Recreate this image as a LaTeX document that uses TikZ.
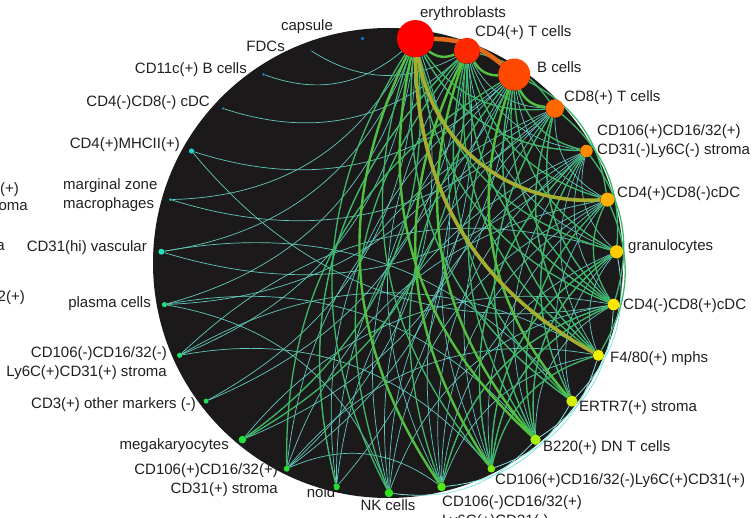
\documentclass[tikz,border=0pt]{standalone}
\usepackage{fontspec}
\setmainfont{Liberation Sans}
\usetikzlibrary{calc}

\pgfdeclarelayer{disk}
\pgfdeclarelayer{edges}
\pgfsetlayers{disk,edges,main}

% node colours, right side red -> yellow -> green, left side green -> blue
\definecolor{c0}{HTML}{33E01F}
\definecolor{c1}{HTML}{55E81A}
\definecolor{c2}{HTML}{7DEA14}
\definecolor{c3}{HTML}{A8EE10}
\definecolor{c4}{HTML}{D4F00A}
\definecolor{c5}{HTML}{EEF000}
\definecolor{c6}{HTML}{FFE600}
\definecolor{c7}{HTML}{FFCC00}
\definecolor{c8}{HTML}{FFB000}
\definecolor{c9}{HTML}{FF8A00}
\definecolor{c10}{HTML}{FF6600}
\definecolor{c11}{HTML}{FF4800}
\definecolor{c12}{HTML}{FF2800}
\definecolor{c13}{HTML}{FF0000}
\definecolor{c14}{HTML}{1E6BE6}
\definecolor{c15}{HTML}{1F4FA0}
\definecolor{c16}{HTML}{1F7FD0}
\definecolor{c17}{HTML}{22A6C8}
\definecolor{c18}{HTML}{20D2D2}
\definecolor{c19}{HTML}{20C0D0}
\definecolor{c20}{HTML}{1FE0B8}
\definecolor{c21}{HTML}{1FE070}
\definecolor{c22}{HTML}{1FE068}
\definecolor{c23}{HTML}{22DD55}
\definecolor{c24}{HTML}{22E040}
\definecolor{c25}{HTML}{22E035}
\definecolor{c26}{HTML}{22E025}
\definecolor{diskbg}{HTML}{1B1919}
\definecolor{eThin}{HTML}{62C9BD}
\definecolor{eRim}{HTML}{7FE5E0}
\definecolor{eMid}{HTML}{3EB86A}
\definecolor{eGreen}{HTML}{52C040}
\definecolor{eOlive}{HTML}{A4AE30}
\definecolor{eOrange}{HTML}{E56A1C}

\begin{document}
\begin{tikzpicture}[x=1pt, y=-1pt,
  dot/.style={circle, inner sep=0pt, draw=none},
  lbl/.style={inner sep=0pt, font=\fontsize{15}{19}\selectfont, text=black!88},
  wThin/.style={draw=eThin, line width=0.7pt},
  wRim/.style={draw=eRim, line width=0.8pt},
  wMid/.style={draw=eMid, line width=1.3pt},
  wGreen/.style={draw=eGreen, line width=2.4pt},
  wOlive/.style={draw=eOlive, line width=3.6pt},
  wOrange/.style={draw=eOrange, line width=4.5pt}]

\useasboundingbox (0,0) rectangle (751,518);
\clip (0,0) rectangle (751,518);

% ============================
% Disk
% ============================
\coordinate (ctr) at (389,265);
\begin{pgfonlayer}{disk}
\fill[diskbg] (388,263) circle (235);
\end{pgfonlayer}

% ============================
% Dots on the ring
% ============================
\foreach \k/\r in {0/4.3,1/4.3,2/3.8,3/5.2,4/5.6,5/5.6,6/5.8,7/6.6,8/7,9/6.2,
                   10/9.2,11/16,12/13,13/18.5,14/1.8,15/1,16/1.5,17/1.2,18/2.6,
                   19/1.5,20/3,21/2.6,22/2.6,23/2.5,24/3.8,25/3,26/3.4}{
  \node[dot, fill=c\k, minimum size={2*\r*1pt}] (n\k) at ($(ctr)+({90-13.3333*\k}:228)$) {};
}

% ============================
% Connectors
% ============================
\begin{pgfonlayer}{edges}
% thin ones
\foreach \a/\b in {16/13,15/12,17/12,18/11,19/10,20/13,20/9,21/13,21/11,22/13,
                   22/7,22/5,23/12,23/13,24/11,24/6,25/13,25/12,25/10,25/8,25/5,
                   26/13,26/12,26/11,26/10,26/9,0/11,0/10,0/9,0/8,0/6,0/21,
                   1/13,1/12,1/10,1/9,1/8,1/7,1/6,1/5,1/25,2/11,2/10,2/9,2/8,
                   2/7,2/6,3/12,3/10,3/9,3/7,3/6,4/13,4/11,4/9,4/8,4/7,5/11,
                   5/10,5/9,5/7,6/12,6/10,6/9,7/12,7/9,8/11,8/10,9/13,9/12,
                   10/12,18/6,20/4,21/3,22/2,19/13}{
  \pgfmathtruncatemacro\d{mod(\b-\a+27,27)}
  \ifnum\d>13 \draw[wThin] (n\b) to[bend left=30] (n\a);
  \else \draw[wThin] (n\a) to[bend left=30] (n\b); \fi
}
% green ones
\foreach \a/\b in {13/0,13/2,13/4,13/6,13/7,13/9,13/10,12/0,12/4,12/5,12/6,
                   12/8,11/1,11/3,11/5,11/6,11/7,11/9,10/5,10/3,10/6,9/4,9/2,
                   8/3,8/6,7/3,7/2,6/2,6/1,5/2,24/13,24/12,26/12,25/11}{
  \pgfmathtruncatemacro\d{mod(\b-\a+27,27)}
  \ifnum\d>13 \draw[wMid] (n\b) to[bend left=30] (n\a);
  \else \draw[wMid] (n\a) to[bend left=30] (n\b); \fi
}
\foreach \a/\b in {3/13,1/13,2/12,3/12,4/11,12/13,11/12,10/11}{
  \draw[wGreen] (n\a) to[bend left=30] (n\b);
}
% along the rim, bent outwards
\foreach \a/\b/\t in {0/3/27,1/4/27,2/5/27,3/6/27,4/7/27}{
  \draw[wRim] (n\a) to[bend right=\t] (n\b);
}
\foreach \a/\b/\t in {5/8/27,6/9/27,7/10/27,8/11/27,10/12/20}{
  \draw[wMid] (n\a) to[bend right=\t] (n\b);
}
\draw[wOrange] (n11) to[bend right=19] (n13);
% heavy ones
\draw[wOlive] (n8) to[bend left=42] (n13);
\draw[wOlive] (n5) to[bend left=30] (n13);
\end{pgfonlayer}

% ============================
% Labels
% ============================
\node[lbl] (l13) at (463,14) {erythroblasts};
\node[lbl, anchor=west] (l12) at (475,33) {CD4(+) T cells};
\node[lbl, anchor=west] (l11) at (537,67) {B cells};
\node[lbl, anchor=west] (l10) at (564,98) {CD8(+) T cells};
\node[lbl, anchor=west, align=left] (l9) at (597,141) {CD106(+)CD16/32(+)\\CD31(-)Ly6C(-) stroma};
\node[lbl, anchor=west] (l8) at (617,194) {CD4(+)CD8(-)cDC};
\node[lbl, anchor=west] (l7) at (628,247) {granulocytes};
\node[lbl, anchor=west] (l6) at (623,306) {CD4(-)CD8(+)cDC};
\node[lbl, anchor=west] (l5) at (610,359) {F4/80(+) mphs};
\node[lbl, anchor=west] (l4) at (579,408) {ERTR7(+) stroma};
\node[lbl, anchor=west] (l3) at (543,448) {B220(+) DN T cells};
\node[lbl, anchor=west] (l2) at (495,481) {CD106(+)CD16/32(-)Ly6C(+)CD31(+)};
\node[lbl, anchor=north west, align=left] (l1) at (442,495) {CD106(-)CD16/32(+)\\Ly6C(+)CD31(-)};
\node[lbl] (l0) at (388,505) {NK cells};
\node[lbl] (l26) at (321,492) {noid};
\node[lbl, anchor=east, align=right] (l25) at (278,480) {CD106(+)CD16/32(+)\\CD31(+) stroma};
\node[lbl, anchor=east] (l24) at (229,446) {megakaryocytes};
\node[lbl, anchor=east] (l23) at (196,405) {CD3(+) other markers (-)};
\node[lbl, anchor=east, align=right] (l22) at (167,363) {CD106(-)CD16/32(-)\\Ly6C(+)CD31(+) stroma};
\node[lbl, anchor=east] (l21) at (151,304) {plasma cells};
\node[lbl, anchor=east] (l20) at (147,248) {CD31(hi) vascular};
\node[lbl, anchor=west, align=left] (l19) at (63,195) {marginal zone\\macrophages};
\node[lbl, anchor=east] (l18) at (180,145) {CD4(+)MHCII(+)};
\node[lbl, anchor=east] (l17) at (210,103) {CD4(-)CD8(-) cDC};
\node[lbl, anchor=east] (l16) at (247,70) {CD11c(+) B cells};
\node[lbl, anchor=east] (l15) at (285,46) {FDCs};
\node[lbl] (l14) at (307,27) {capsule};

% cut-off text at the left border
\node[lbl, anchor=east] (f1) at (19,190) {(+)};
\node[lbl, anchor=east] (f2) at (28,207) {oma};
\node[lbl, anchor=east] (f3) at (5,247) {a};
\node[lbl, anchor=east] (f4) at (25,298) {2(+)};

\end{tikzpicture}
\end{document}
